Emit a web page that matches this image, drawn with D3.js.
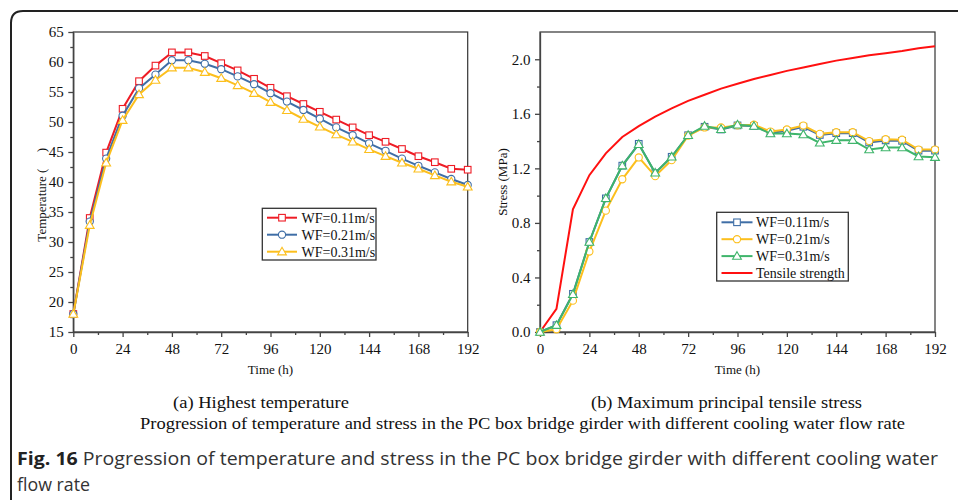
<!DOCTYPE html>
<html><head><meta charset="utf-8">
<script src="https://cdn.jsdelivr.net/npm/d3@7/dist/d3.min.js"></script>
<style>
html,body{margin:0;padding:0;background:#fff;}
svg{display:block;}
</style></head>
<body><svg id="c" width="958" height="500"></svg>
<script>
const hours = [0,8,16,24,32,40,48,56,64,72,80,88,96,104,112,120,128,136,144,152,160,168,176,184,192];
const tempWF011 = [18,34.0,44.9,52.2,56.8,59.4,61.6,61.6,61.0,59.8,58.6,57.2,55.7,54.3,53.0,51.7,50.4,49.1,47.8,46.7,45.5,44.3,43.3,42.2,42.05];
const tempWF021 = [18,33.4,43.9,51.05,55.6,57.9,60.3,60.3,59.7,58.8,57.6,56.3,54.8,53.4,52.0,50.55,49.1,47.8,46.45,45.2,43.9,42.7,41.6,40.5,39.5];
const tempWF031 = [18,32.8,43.2,50.3,54.6,57.0,59.05,59.05,58.3,57.3,56.1,54.8,53.3,51.95,50.5,49.2,47.9,46.7,45.45,44.3,43.2,42.2,41.1,40.05,39.2];
const stressWF011 = [0,0.05,0.28,0.66,0.98,1.22,1.38,1.165,1.285,1.443,1.505,1.485,1.515,1.51,1.46,1.475,1.505,1.445,1.458,1.458,1.39,1.405,1.402,1.33,1.33];
const stressWF021 = [0,0.02,0.23,0.59,0.89,1.12,1.28,1.143,1.26,1.44,1.50,1.50,1.515,1.52,1.47,1.485,1.514,1.453,1.465,1.465,1.40,1.414,1.41,1.338,1.338];
const stressWF031 = [0,0.05,0.276,0.66,0.98,1.22,1.377,1.167,1.285,1.443,1.51,1.487,1.52,1.51,1.455,1.455,1.448,1.387,1.407,1.407,1.338,1.353,1.353,1.287,1.282];
const tensileStrength = [0,0.17,0.9,1.15,1.31,1.43,1.51,1.58,1.64,1.695,1.74,1.785,1.82,1.855,1.885,1.915,1.94,1.965,1.99,2.01,2.03,2.045,2.06,2.08,2.095];
const xTicks = [0,24,48,72,96,120,144,168,192];
const tempTicks = [15,20,25,30,35,40,45,50,55,60,65];
const stressTicks = [0,0.4,0.8,1.2,1.6,2.0];
const legendTemp = ["WF=0.11m/s","WF=0.21m/s","WF=0.31m/s"];
const legendStress = ["WF=0.11m/s","WF=0.21m/s","WF=0.31m/s","Tensile strength"];

const svg = d3.select("#c");
const SERIF = "'Liberation Serif','Times New Roman',serif";
const RED="#ee1c25", BLUE="#3f6ea6", YEL="#fcbf1d", GRN="#3fb56b", TRED="#ff1010";

// outer frame
svg.append("path").attr("d","M11,500 L11,23 Q11,11 23,11 L958,11")
  .attr("fill","none").attr("stroke","#222").attr("stroke-width",2);

function marker(g, type, x, y, color){
  if(type==="square") g.append("rect").attr("x",x-3.3).attr("y",y-3.3).attr("width",6.6).attr("height",6.6).attr("fill","#fff").attr("stroke",color).attr("stroke-width",1.1);
  else if(type==="circle") g.append("circle").attr("cx",x).attr("cy",y).attr("r",3.6).attr("fill","#fff").attr("stroke",color).attr("stroke-width",1.1);
  else if(type==="triangle") g.append("path").attr("d",`M${x},${y-4.4}L${x+4.4},${y+3.2}L${x-4.4},${y+3.2}Z`).attr("fill","#fff").attr("stroke",color).attr("stroke-width",1.1);
}

function panel(opt){
  const x = d3.scaleLinear().domain([0,192]).range([opt.x0,opt.x1]);
  const y = d3.scaleLinear().domain(opt.ydom).range([332,32]);
  const g = svg.append("g");
  g.append("rect").attr("x",opt.x0).attr("y",32).attr("width",opt.x1-opt.x0).attr("height",300)
    .attr("fill","none").attr("stroke","#333").attr("stroke-width",1.2);
  const xa = g.append("g").attr("transform","translate(0,332)")
    .call(d3.axisBottom(x).tickValues(xTicks).tickSize(5).tickSizeOuter(0).tickFormat(d3.format("d")));
  const xm = g.append("g").attr("transform","translate(0,332)")
    .call(d3.axisBottom(x).tickValues(d3.range(12,192,24)).tickSize(3).tickSizeOuter(0).tickFormat(""));
  xm.select(".domain").remove();
  const ya = g.append("g").attr("transform",`translate(${opt.x0},0)`)
    .call(d3.axisLeft(y).tickValues(opt.yticks).tickSize(5).tickSizeOuter(0).tickFormat(opt.yfmt));
  const ym = g.append("g").attr("transform",`translate(${opt.x0},0)`)
    .call(d3.axisLeft(y).tickValues(opt.yminor).tickSize(3).tickSizeOuter(0).tickFormat(""));
  ym.select(".domain").remove();
  [xa,xm,ya,ym].forEach(a=>{
    a.selectAll("path,line").attr("stroke","#444").attr("stroke-width",1.3);
    a.selectAll("text").attr("font-family",SERIF).attr("font-size",15).attr("fill","#111");
  });
  xa.selectAll("text").attr("dy","0.95em");
  ya.selectAll("text").attr("dx","-0.1em");
  g.append("text").attr("x",(opt.x0+opt.x1)/2).attr("y",374).attr("text-anchor","middle")
    .attr("font-family",SERIF).attr("font-size",13).attr("fill","#111").text("Time (h)");
  g.append("text").attr("transform",`translate(${opt.ytx},${opt.yty}) rotate(-90)`).attr("text-anchor",opt.ytanchor)
    .attr("font-family",SERIF).attr("font-size",13).attr("fill","#111").text(opt.ytitle);
  const line = d3.line().x((d,i)=>x(hours[i])).y(d=>y(d));
  opt.series.forEach(s=>{
    g.append("path").datum(s.values).attr("d",line).attr("fill","none").attr("stroke",s.color).attr("stroke-width",s.w||2);
    if(s.marker){
      const mg = g.append("g");
      s.values.forEach((v,i)=>marker(mg,s.marker,x(hours[i]),y(v),s.color));
    }
  });
  const L = opt.legend;
  g.append("rect").attr("x",L.x).attr("y",L.y).attr("width",L.w).attr("height",L.h)
    .attr("fill","#fff").attr("stroke","#333").attr("stroke-width",1.3);
  L.items.forEach((it,i)=>{
    const yy = L.y0 + i*L.dy;
    g.append("line").attr("x1",L.lx1).attr("x2",L.lx2).attr("y1",yy).attr("y2",yy).attr("stroke",it.color).attr("stroke-width",2);
    if(it.marker) marker(g,it.marker,(L.lx1+L.lx2)/2,yy,it.color);
    g.append("text").attr("x",L.tx).attr("y",yy+5).attr("font-family",SERIF).attr("font-size",14).attr("fill","#111").text(it.label);
  });
}

panel({
  x0:73.3, x1:467.7, ydom:[15,65], yticks:tempTicks, yminor:d3.range(17.5,65,5), yfmt:d3.format("d"),
  ytitle:"Temperature (\u00a0\u00a0\u00a0\u00a0\u00a0)", ytx:46, yty:148, ytanchor:"end",
  series:[
    {values:tempWF011,color:RED,marker:"square"},
    {values:tempWF021,color:BLUE,marker:"circle"},
    {values:tempWF031,color:YEL,marker:"triangle"}
  ],
  legend:{x:262.3,y:208.3,w:113.7,h:51.7,y0:217.7,dy:17,lx1:267,lx2:297,tx:301.5,
    items:[{label:legendTemp[0],color:RED,marker:"square"},{label:legendTemp[1],color:BLUE,marker:"circle"},{label:legendTemp[2],color:YEL,marker:"triangle"}]}
});

panel({
  x0:540, x1:935, ydom:[0,2.2], yticks:stressTicks, yminor:[0.2,0.6,1.0,1.4,1.8], yfmt:d3.format(".1f"),
  ytitle:"Stress (MPa)", ytx:507, yty:182, ytanchor:"middle",
  series:[
    {values:tensileStrength,color:TRED,w:2},
    {values:stressWF011,color:BLUE,marker:"square"},
    {values:stressWF021,color:YEL,marker:"circle"},
    {values:stressWF031,color:GRN,marker:"triangle"}
  ],
  legend:{x:716.7,y:212.3,w:131.6,h:68.7,y0:222.3,dy:16.9,lx1:721.5,lx2:752.5,tx:756,
    items:[{label:legendStress[0],color:BLUE,marker:"square"},{label:legendStress[1],color:YEL,marker:"circle"},{label:legendStress[2],color:GRN,marker:"triangle"},{label:legendStress[3],color:TRED}]}
});

function cap(t,x,y,len,size){
  svg.append("text").attr("x",x).attr("y",y).attr("font-family",SERIF).attr("font-size",size).attr("fill","#111")
    .attr("textLength",len).attr("lengthAdjust","spacingAndGlyphs").text(t);
}
cap("(a) Highest temperature",173,408,176,16);
cap("(b) Maximum principal tensile stress",591,408,271,16);
cap("Progression of temperature and stress in the PC box bridge girder with different cooling water flow rate",140,429,765,16);

const SANS = "'Liberation Sans Narrow','Open Sans',sans-serif";
const f1 = svg.append("text").attr("x",17).attr("y",465).attr("font-family",SANS).attr("font-size",18).attr("fill","#333")
  .attr("textLength",921).attr("lengthAdjust","spacingAndGlyphs");
f1.append("tspan").attr("font-weight","bold").attr("fill","#222").text("Fig. 16");
f1.append("tspan").text(" Progression of temperature and stress in the PC box bridge girder with different cooling water");
svg.append("text").attr("x",17).attr("y",491).attr("font-family",SANS).attr("font-size",18).attr("fill","#333")
  .attr("textLength",73).attr("lengthAdjust","spacingAndGlyphs").text("flow rate");
</script></body></html>
